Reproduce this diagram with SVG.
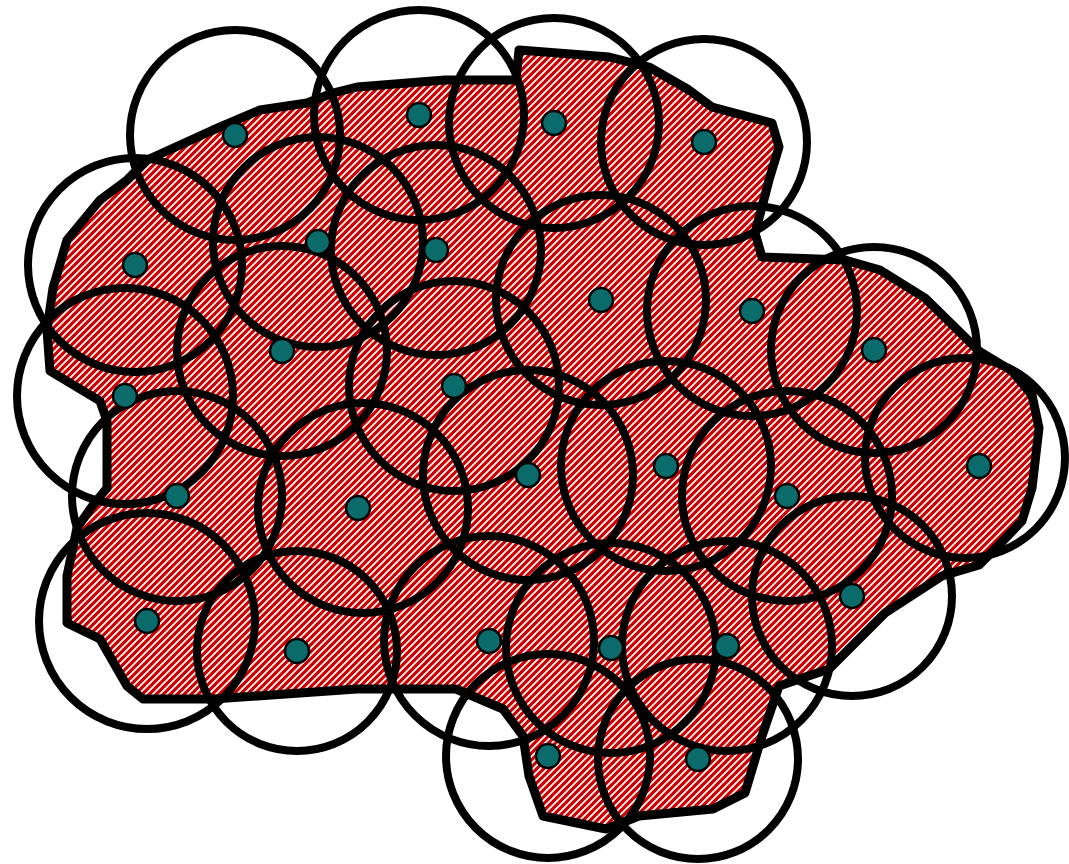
<svg xmlns="http://www.w3.org/2000/svg" width="1069" height="864" viewBox="0 0 1069 864">
<defs>
<pattern id="hatch" patternUnits="userSpaceOnUse" width="7" height="7">
<rect width="7" height="7" fill="#cc0000"/>
<path d="M-1,1 l2,-2 M0,7 l7,-7 M6,8 l2,-2" stroke="#ffffff" stroke-width="1.7"/>
</pattern>
</defs>
<style>
.ring{fill:none;stroke:#000;stroke-width:8}
.dot{fill:#0b6b6b;stroke:#000;stroke-width:2.5}
</style>
<rect width="1069" height="864" fill="#fff"/>
<g id="region">
<path d="M357,689 L396,689 L456,689 L503,709 L523,736 L529,776 L543,816 L606,829 L639,816 L713,809 L745,793 L762,736 L779,686 L829,669 L885,613 L942,576 L979,565 L999,545 L1022,521 L1032,488 L1039,428 L1032,395 L1012,371 L979,351 L925,298 L880,270 L845,260 L762,257 L755,233 L762,207 L769,180 L779,147 L772,123 L712,107 L689,90 L649,67 L609,57 L519,50 L516,80 L445,80 L357,87 L333,93 L307,103 L260,110 L213,130 L147,160 L127,180 L100,200 L67,240 L53,288 L47,330 L50,371 L100,401 L107,421 L107,488 L93,505 L77,528 L67,576 L67,623 L100,639 L127,686 L143,699 L213,699 Z" fill="url(#hatch)" stroke="#000" stroke-width="9" stroke-linejoin="round"/>
</g>
<g id="rings">
<circle class="ring" cx="235" cy="135" r="105"/>
<circle class="ring" cx="419" cy="115" r="105"/>
<circle class="ring" cx="554" cy="123" r="105"/>
<circle class="ring" cx="704" cy="142" r="103"/>
<circle class="ring" cx="135" cy="265" r="107"/>
<circle class="ring" cx="318" cy="242" r="105"/>
<circle class="ring" cx="436" cy="250" r="105"/>
<circle class="ring" cx="601" cy="300" r="105"/>
<circle class="ring" cx="752" cy="311" r="105"/>
<circle class="ring" cx="874" cy="350" r="103"/>
<circle class="ring" cx="282" cy="351" r="105"/>
<circle class="ring" cx="125" cy="396" r="108"/>
<circle class="ring" cx="454" cy="386" r="105"/>
<circle class="ring" cx="528" cy="475" r="105"/>
<circle class="ring" cx="666" cy="466" r="105"/>
<circle class="ring" cx="787" cy="496" r="105"/>
<circle class="ring" cx="965" cy="458" r="100"/>
<circle class="ring" cx="177" cy="496" r="105"/>
<circle class="ring" cx="363" cy="508" r="105"/>
<circle class="ring" cx="852" cy="596" r="100"/>
<circle class="ring" cx="147" cy="621" r="108"/>
<circle class="ring" cx="297" cy="651" r="100"/>
<circle class="ring" cx="489" cy="641" r="105"/>
<circle class="ring" cx="611" cy="648" r="105"/>
<circle class="ring" cx="727" cy="646" r="105"/>
<circle class="ring" cx="548" cy="756" r="102"/>
<circle class="ring" cx="698" cy="759" r="100"/>
</g>
<g id="dots">
<circle class="dot" cx="235" cy="135" r="12"/>
<circle class="dot" cx="419" cy="115" r="12"/>
<circle class="dot" cx="554" cy="123" r="12"/>
<circle class="dot" cx="704" cy="142" r="12"/>
<circle class="dot" cx="135" cy="265" r="12"/>
<circle class="dot" cx="318" cy="242" r="12"/>
<circle class="dot" cx="436" cy="250" r="12"/>
<circle class="dot" cx="601" cy="300" r="12"/>
<circle class="dot" cx="752" cy="311" r="12"/>
<circle class="dot" cx="874" cy="350" r="12"/>
<circle class="dot" cx="282" cy="351" r="12"/>
<circle class="dot" cx="125" cy="396" r="12"/>
<circle class="dot" cx="454" cy="386" r="12"/>
<circle class="dot" cx="528" cy="475" r="12"/>
<circle class="dot" cx="666" cy="466" r="12"/>
<circle class="dot" cx="787" cy="496" r="12"/>
<circle class="dot" cx="979" cy="466" r="12"/>
<circle class="dot" cx="177" cy="496" r="12"/>
<circle class="dot" cx="358" cy="508" r="12"/>
<circle class="dot" cx="852" cy="596" r="12"/>
<circle class="dot" cx="147" cy="621" r="12"/>
<circle class="dot" cx="297" cy="651" r="12"/>
<circle class="dot" cx="489" cy="641" r="12"/>
<circle class="dot" cx="611" cy="648" r="12"/>
<circle class="dot" cx="727" cy="646" r="12"/>
<circle class="dot" cx="548" cy="756" r="12"/>
<circle class="dot" cx="698" cy="759" r="12"/>
</g>
</svg>
